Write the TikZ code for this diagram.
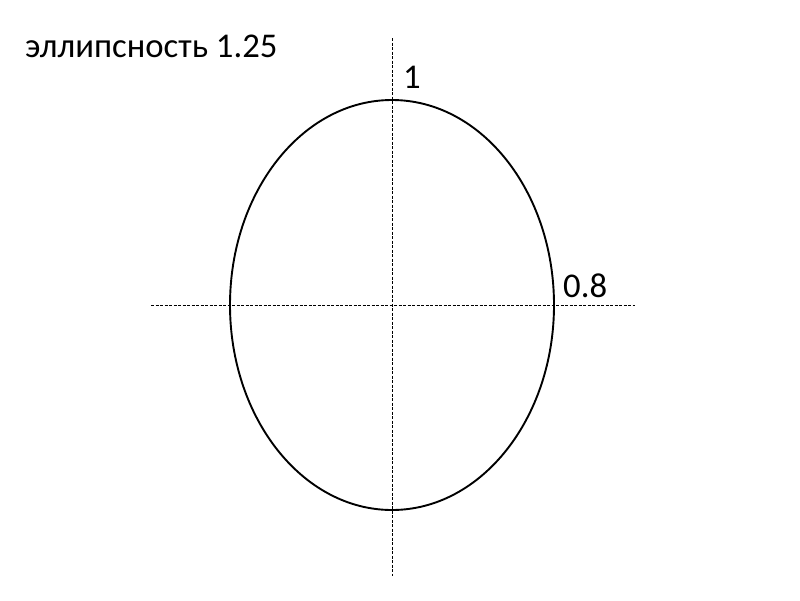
\documentclass[tikz,border=0pt]{standalone}
\usepackage{fontspec}
\setmainfont{Carlito}
\begin{document}
\begin{tikzpicture}[x=1pt,y=-1pt,
  axis/.style={line width=0.9pt, dash pattern=on 3pt off 1.5pt},
  lbl/.style={inner sep=0pt, anchor=base west, font=\fontsize{34.7}{40}\selectfont}]
\useasboundingbox (0,0) rectangle (800,600);
\coordinate (c) at (392,305);
\coordinate (hl) at (151,305);
\coordinate (hr) at (635,305);
\coordinate (vt) at (392,38);
\coordinate (vb) at (392,576);
\draw[axis] (hl) -- (hr);
\draw[axis] (vt) -- (vb);
\draw[line width=1.9pt] (c) ellipse [x radius=162, y radius=205];
\node[lbl] (title) at (25,57) {эллипсность 1.25};
\node[lbl] (one) at (403,88) {1};
\node[lbl] (eight) at (563,297) {0.8};
\end{tikzpicture}
\end{document}
